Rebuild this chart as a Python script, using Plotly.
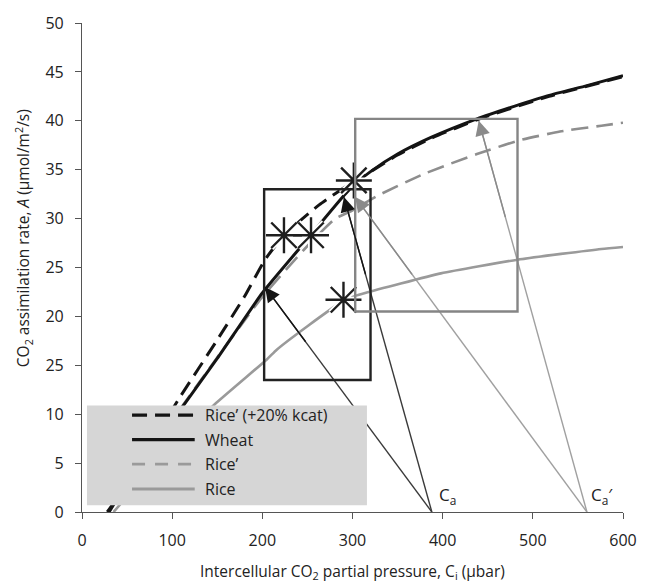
import plotly.graph_objects as go

# ---- A/Ci response curves (Ci in µbar, A in µmol m-2 s-1) ----
wheat_ci = [28, 60, 100, 150, 200, 250, 290, 300, 320, 350, 387, 438, 480, 518, 560, 600]
wheat_a = [0, 4.1, 9.3, 15.7, 22.4, 27.9, 32.3, 33.3, 34.8, 36.6, 38.3, 40.2, 41.5, 42.6, 43.6, 44.6]

rice_kcat_ci = [30, 60, 109, 150, 180, 203, 224, 263, 301, 320, 350, 387, 438, 518, 600]
rice_kcat_a = [0, 4.5, 11.8, 17.6, 22.0, 25.8, 28.3, 31.4, 33.8, 34.8, 36.5, 38.2, 40.1, 42.5, 44.5]

rice_prime_ci = [30, 60, 100, 150, 200, 250, 281, 297, 329, 380, 438, 485, 530, 576, 600]
rice_prime_a = [0, 4.3, 9.4, 15.8, 22.0, 27.2, 30.0, 30.7, 32.4, 34.6, 36.6, 38.0, 38.9, 39.5, 39.8]

rice_ci = [35, 90, 147, 205, 216, 250, 290, 303, 314, 398, 483, 576, 600]
rice_a = [0, 5.8, 11.0, 15.6, 16.6, 19.0, 21.6, 22.1, 22.4, 24.4, 25.8, 26.9, 27.1]

# ---- supply lines from ambient CO2 ----
ca = 388
ca_prime = 560
ca_tips_ci = [203, 290.5]
ca_tips_a = [23.0, 32.2]
ca_prime_tips_ci = [303, 440]
ca_prime_tips_a = [32.2, 40.0]

# ---- operating points ----
star_ci = [224, 254, 301.5, 290]
star_a = [28.3, 28.3, 33.9, 21.7]

# ---- boxes (Ci range, A range) ----
box_black = (202, 320, 13.5, 33.0)
box_gray = (303, 483, 20.5, 40.2)

y_ticks = [0, 5, 10, 15, 20, 25, 30, 35, 40, 45, 50]
y_tick_text = ["0", "5", "10", "25", "20", "25", "30", "35", "40", "45", "50"]
x_ticks = [0, 100, 200, 300, 400, 500, 600]

legend_names = ["Rice\u2019 (+20% kcat)", "Wheat", "Rice\u2019", "Rice"]

FONT = "Open Sans"
BLACK = "#141414"
GRAY = "#9a9a9a"

fig = go.Figure()


def supply_line(origin, tx, ty, line_color, head_color):
    # full line from the ambient point, then an arrowhead on the last part
    fig.add_trace(go.Scatter(x=[origin, tx], y=[0, ty], mode="lines",
                             line=dict(color=line_color, width=1.4),
                             showlegend=False, hoverinfo="skip"))
    fig.add_annotation(x=tx, y=ty, ax=tx + 0.25 * (origin - tx), ay=0.75 * ty,
                       xref="x", yref="y", axref="x", ayref="y", text="",
                       showarrow=True, arrowhead=2, arrowsize=2.1, arrowwidth=1.4,
                       arrowcolor=head_color, standoff=0)


for tx, ty in zip(ca_tips_ci, ca_tips_a):
    supply_line(ca, tx, ty, "#3a3a3a", BLACK)
for tx, ty in zip(ca_prime_tips_ci, ca_prime_tips_a):
    supply_line(ca_prime, tx, ty, "#a0a0a0", "#8a8a8a")

# A/Ci curves
fig.add_trace(go.Scatter(x=rice_ci, y=rice_a, mode="lines",
                         line=dict(color=GRAY, width=2.6, shape="spline", smoothing=0.5),
                         showlegend=False, hoverinfo="skip"))
fig.add_trace(go.Scatter(x=rice_prime_ci, y=rice_prime_a, mode="lines",
                         line=dict(color="#8e8e8e", width=2.6, dash="17px,8px",
                                   shape="spline", smoothing=0.5),
                         showlegend=False, hoverinfo="skip"))
fig.add_trace(go.Scatter(x=wheat_ci, y=wheat_a, mode="lines",
                         line=dict(color=BLACK, width=3, shape="spline", smoothing=0.5),
                         showlegend=False, hoverinfo="skip"))
fig.add_trace(go.Scatter(x=rice_kcat_ci, y=rice_kcat_a, mode="lines",
                         line=dict(color=BLACK, width=3, dash="15px,8px",
                                   shape="spline", smoothing=0.5),
                         showlegend=False, hoverinfo="skip"))

# boxes
for (x0, x1, y0, y1), col in [(box_black, "#222222"), (box_gray, "#858585")]:
    fig.add_shape(type="rect", x0=x0, x1=x1, y0=y0, y1=y1, xref="x", yref="y",
                  line=dict(color=col, width=2.4), fillcolor="rgba(0,0,0,0)")

# operating points: white halo then black asterisk
fig.add_trace(go.Scatter(x=star_ci, y=star_a, mode="markers",
                         marker=dict(symbol="asterisk-open", size=30, color="white",
                                     line=dict(color="white", width=6)),
                         showlegend=False, hoverinfo="skip"))
fig.add_trace(go.Scatter(x=star_ci, y=star_a, mode="markers",
                         marker=dict(symbol="asterisk-open", size=30, color="#1e1e1e",
                                     line=dict(color="#1e1e1e", width=2.4)),
                         showlegend=False, hoverinfo="skip"))

# legend panel drawn over the curves
fig.add_shape(type="rect", xref="x", yref="y", x0=5.5, x1=316, y0=0.7, y1=10.9,
              line=dict(width=0), fillcolor="#d6d6d6", layer="above")
legend_styles = [
    dict(color=BLACK, width=3.2, dash="15px,8px"),
    dict(color=BLACK, width=3.2),
    dict(color="#9a9a9a", width=2.8, dash="13px,10px"),
    dict(color="#9a9a9a", width=2.8),
]
row_y = [9.9, 7.4, 4.9, 2.35]
for name, style, yy in zip(legend_names, legend_styles, row_y):
    fig.add_shape(type="line", xref="x", yref="y", x0=55.5, x1=125, y0=yy, y1=yy,
                  line=style, layer="above")
    fig.add_annotation(x=134, y=yy, xref="x", yref="y", text=name, showarrow=False,
                       xanchor="left", yanchor="middle",
                       font=dict(family=FONT, size=16, color="#222222"))

# Ca labels
fig.add_annotation(x=394, y=1.7, xref="x", yref="y", text="C<sub>a</sub>", showarrow=False,
                   xanchor="left", yanchor="middle", font=dict(family=FONT, size=17, color="#222"))
fig.add_annotation(x=562, y=1.7, xref="x", yref="y", text="C<sub>a</sub>\u2032", showarrow=False,
                   xanchor="left", yanchor="middle", font=dict(family=FONT, size=17, color="#222"))

# axis titles
fig.add_annotation(x=-0.109, y=0.56, xref="paper", yref="paper", textangle=-90,
                   text="CO<sub>2</sub> assimilation rate, <i>A</i> (\u03bcmol/m<sup>2</sup>/s)",
                   showarrow=False, xanchor="center", yanchor="middle",
                   font=dict(family=FONT, size=15.5, color="#222"))
fig.add_annotation(x=0.5, y=-0.121, xref="paper", yref="paper",
                   text="Intercellular CO<sub>2</sub> partial pressure, C<sub>i</sub> (\u03bcbar)",
                   showarrow=False, xanchor="center", yanchor="middle",
                   font=dict(family=FONT, size=15.5, color="#222"))

fig.update_layout(
    width=649, height=587,
    margin=dict(l=82, r=17, t=15, b=75),
    paper_bgcolor="white", plot_bgcolor="white",
    showlegend=False,
    xaxis=dict(range=[0, 600], tickvals=x_ticks, showgrid=False, zeroline=False,
               showline=True, linecolor="#555", linewidth=1.2,
               ticks="outside", ticklen=6, tickcolor="#555", tickwidth=1.2,
               ticklabelstandoff=8,
               tickfont=dict(family=FONT, size=16, color="#222")),
    yaxis=dict(range=[0, 50], tickvals=y_ticks, ticktext=y_tick_text, showgrid=False,
               zeroline=False, showline=True, linecolor="#555", linewidth=1.2,
               ticks="outside", ticklen=6, tickcolor="#555", tickwidth=1.2,
               ticklabelstandoff=8,
               tickfont=dict(family=FONT, size=16, color="#222")),
)

fig.write_html("out.html")
